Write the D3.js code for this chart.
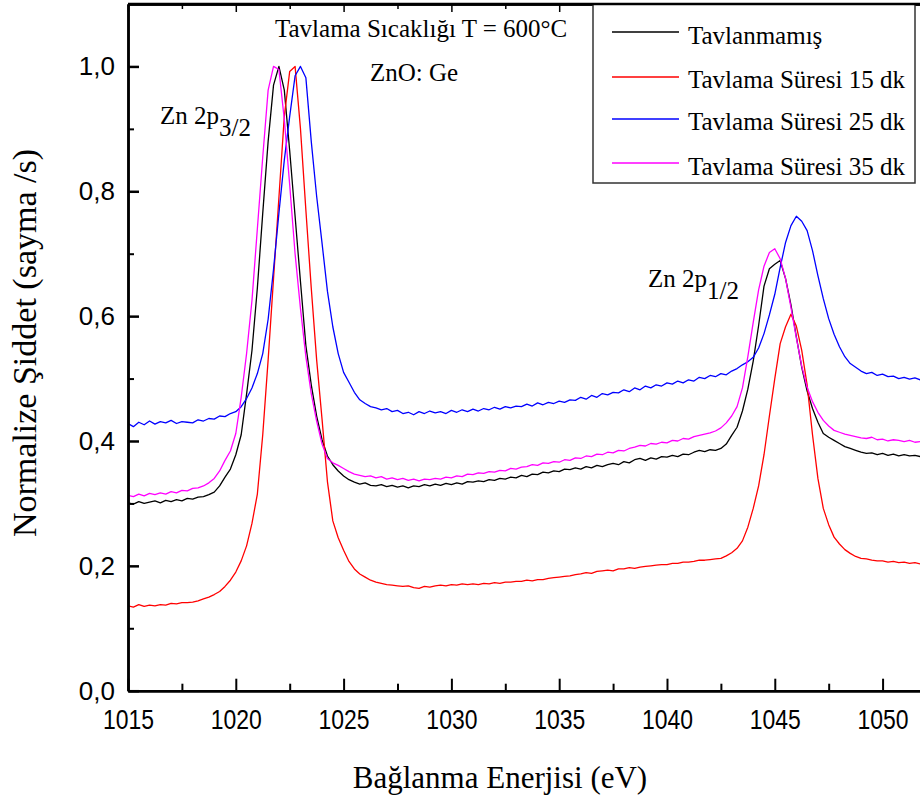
<!DOCTYPE html>
<html>
<head>
<meta charset="utf-8">
<script src="https://cdn.jsdelivr.net/npm/d3@7/dist/d3.min.js"></script>
<style>
  html, body { margin: 0; padding: 0; background: #fff; }
  svg { display: block; }
</style>
</head>
<body>
<svg id="chart" width="920" height="801"></svg>
<script>
// Zn 2p XPS spectra of ZnO:Ge films, annealed at 600 °C for different times.
// Binding energy grid (eV), 0.25 eV step.
const energies = [
  1015,1015.25,1015.5,1015.75,1016,1016.25,1016.5,1016.75,
  1017,1017.25,1017.5,1017.75,1018,1018.25,1018.5,1018.75,
  1019,1019.25,1019.5,1019.75,1020,1020.25,1020.5,1020.75,
  1021,1021.25,1021.5,1021.75,1022,1022.25,1022.5,1022.75,
  1023,1023.25,1023.5,1023.75,1024,1024.25,1024.5,1024.75,
  1025,1025.25,1025.5,1025.75,1026,1026.25,1026.5,1026.75,
  1027,1027.25,1027.5,1027.75,1028,1028.25,1028.5,1028.75,
  1029,1029.25,1029.5,1029.75,1030,1030.25,1030.5,1030.75,
  1031,1031.25,1031.5,1031.75,1032,1032.25,1032.5,1032.75,
  1033,1033.25,1033.5,1033.75,1034,1034.25,1034.5,1034.75,
  1035,1035.25,1035.5,1035.75,1036,1036.25,1036.5,1036.75,
  1037,1037.25,1037.5,1037.75,1038,1038.25,1038.5,1038.75,
  1039,1039.25,1039.5,1039.75,1040,1040.25,1040.5,1040.75,
  1041,1041.25,1041.5,1041.75,1042,1042.25,1042.5,1042.75,
  1043,1043.25,1043.5,1043.75,1044,1044.25,1044.5,1044.75,
  1045,1045.25,1045.5,1045.75,1046,1046.25,1046.5,1046.75,
  1047,1047.25,1047.5,1047.75,1048,1048.25,1048.5,1048.75,
  1049,1049.25,1049.5,1049.75,1050,1050.25,1050.5,1050.75,
  1051,1051.25,1051.5,1051.75
];

// Normalized intensity, as-deposited film
const tavlanmamis = [
  0.301,0.299,0.303,0.300,0.302,0.304,0.301,0.305,
  0.303,0.306,0.304,0.308,0.307,0.310,0.311,0.314,
  0.318,0.328,0.342,0.355,0.378,0.410,0.475,0.545,
  0.645,0.765,0.880,0.970,1.000,0.962,0.865,0.760,
  0.655,0.553,0.490,0.440,0.402,0.376,0.362,0.352,
  0.344,0.338,0.334,0.331,0.333,0.329,0.328,0.330,
  0.327,0.329,0.326,0.328,0.325,0.328,0.327,0.330,
  0.328,0.331,0.329,0.332,0.330,0.333,0.331,0.335,
  0.334,0.336,0.335,0.338,0.337,0.340,0.339,0.342,
  0.341,0.345,0.343,0.347,0.346,0.350,0.349,0.352,
  0.351,0.355,0.354,0.357,0.355,0.359,0.357,0.361,
  0.359,0.362,0.364,0.362,0.367,0.365,0.370,0.372,
  0.369,0.373,0.371,0.375,0.374,0.377,0.375,0.379,
  0.378,0.382,0.385,0.383,0.386,0.385,0.388,0.395,
  0.409,0.422,0.448,0.483,0.528,0.585,0.648,0.676,
  0.683,0.689,0.660,0.618,0.567,0.518,0.480,0.452,
  0.430,0.412,0.406,0.401,0.396,0.391,0.388,0.385,
  0.382,0.380,0.381,0.378,0.380,0.377,0.379,0.376,
  0.378,0.376,0.377,0.375
];

// Annealed 15 min
const sure15 = [
  0.136,0.134,0.138,0.135,0.137,0.136,0.138,0.137,
  0.140,0.139,0.141,0.141,0.142,0.144,0.147,0.150,
  0.154,0.159,0.167,0.177,0.190,0.208,0.232,0.268,
  0.315,0.410,0.530,0.660,0.790,0.920,0.992,1.000,
  0.900,0.770,0.645,0.530,0.435,0.335,0.272,0.245,
  0.225,0.207,0.195,0.187,0.182,0.177,0.174,0.172,
  0.170,0.169,0.168,0.167,0.168,0.165,0.164,0.167,
  0.166,0.168,0.169,0.168,0.170,0.169,0.171,0.170,
  0.171,0.170,0.172,0.171,0.173,0.172,0.174,0.174,
  0.175,0.175,0.177,0.176,0.178,0.178,0.180,0.181,
  0.182,0.183,0.184,0.186,0.187,0.189,0.188,0.191,
  0.192,0.193,0.192,0.195,0.195,0.197,0.196,0.198,
  0.199,0.200,0.201,0.202,0.202,0.204,0.204,0.206,
  0.206,0.207,0.209,0.209,0.210,0.211,0.212,0.216,
  0.221,0.228,0.240,0.262,0.292,0.328,0.378,0.440,
  0.500,0.556,0.583,0.603,0.584,0.545,0.490,0.410,
  0.340,0.292,0.266,0.246,0.235,0.226,0.220,0.215,
  0.212,0.211,0.209,0.208,0.208,0.206,0.207,0.205,
  0.206,0.204,0.205,0.203
];

// Annealed 25 min
const sure25 = [
  0.428,0.423,0.430,0.426,0.432,0.427,0.431,0.429,
  0.433,0.428,0.431,0.430,0.429,0.434,0.432,0.436,
  0.435,0.440,0.439,0.444,0.447,0.455,0.468,0.485,
  0.508,0.540,0.595,0.675,0.765,0.850,0.920,0.985,
  1.000,0.982,0.880,0.792,0.717,0.640,0.583,0.540,
  0.510,0.494,0.478,0.466,0.460,0.455,0.453,0.450,
  0.452,0.447,0.449,0.444,0.446,0.442,0.447,0.444,
  0.448,0.445,0.447,0.444,0.449,0.446,0.450,0.447,
  0.451,0.448,0.452,0.450,0.454,0.451,0.455,0.453,
  0.456,0.455,0.459,0.456,0.461,0.458,0.462,0.460,
  0.464,0.462,0.466,0.465,0.470,0.467,0.473,0.470,
  0.476,0.474,0.478,0.477,0.482,0.479,0.485,0.482,
  0.488,0.485,0.490,0.488,0.493,0.491,0.496,0.493,
  0.498,0.496,0.502,0.500,0.505,0.503,0.508,0.506,
  0.512,0.516,0.522,0.527,0.534,0.549,0.572,0.602,
  0.635,0.678,0.718,0.745,0.760,0.752,0.737,0.705,
  0.665,0.628,0.596,0.571,0.551,0.535,0.524,0.518,
  0.512,0.508,0.510,0.505,0.507,0.503,0.504,0.500,
  0.502,0.499,0.501,0.498
];

// Annealed 35 min
const sure35 = [
  0.313,0.311,0.315,0.312,0.316,0.314,0.317,0.315,
  0.319,0.317,0.321,0.320,0.324,0.325,0.328,0.333,
  0.340,0.352,0.369,0.384,0.412,0.470,0.540,0.625,
  0.740,0.855,0.962,1.000,0.995,0.915,0.810,0.700,
  0.612,0.535,0.476,0.432,0.395,0.372,0.365,0.361,
  0.356,0.351,0.347,0.345,0.343,0.344,0.341,0.343,
  0.339,0.341,0.338,0.340,0.337,0.339,0.336,0.339,
  0.338,0.340,0.339,0.342,0.341,0.344,0.343,0.347,
  0.346,0.349,0.348,0.351,0.350,0.353,0.352,0.356,
  0.355,0.358,0.359,0.362,0.361,0.365,0.364,0.367,
  0.366,0.370,0.369,0.373,0.372,0.376,0.375,0.379,
  0.378,0.382,0.381,0.385,0.384,0.388,0.390,0.393,
  0.392,0.396,0.395,0.398,0.397,0.401,0.400,0.404,
  0.403,0.407,0.409,0.411,0.413,0.416,0.421,0.429,
  0.440,0.455,0.485,0.535,0.590,0.642,0.680,0.702,
  0.708,0.692,0.660,0.614,0.565,0.520,0.486,0.463,
  0.446,0.433,0.424,0.417,0.414,0.411,0.409,0.407,
  0.405,0.404,0.406,0.402,0.403,0.400,0.402,0.401,
  0.399,0.401,0.398,0.399
];

const seriesNames = ["Tavlanmamış", "Tavlama Süresi 15 dk", "Tavlama Süresi 25 dk", "Tavlama Süresi 35 dk"];
const seriesValues = [tavlanmamis, sure15, sure25, sure35];
const seriesColors = ["#000000", "#ff0000", "#0000ff", "#ff00ff"];

const xMajorTicks = [1015, 1020, 1025, 1030, 1035, 1040, 1045, 1050];
const xMinorTicks = [1017.5, 1022.5, 1027.5, 1032.5, 1037.5, 1042.5, 1047.5];
const yMajorTicks = [0, 0.2, 0.4, 0.6, 0.8, 1.0];
const yMinorTicks = [0.1, 0.3, 0.5, 0.7, 0.9];

const xDomain = [1015, 1052];
const yDomain = [0, 1.1];

// ---- layout ----
const plot = { left: 128, top: 4, right: 925.7, bottom: 690.7 };
const svg = d3.select("#chart");
svg.append("rect").attr("width", 920).attr("height", 801).attr("fill", "#fff");

const x = d3.scaleLinear().domain(xDomain).range([plot.left, plot.right]);
const y = d3.scaleLinear().domain(yDomain).range([plot.bottom, plot.top]);

svg.append("clipPath").attr("id", "plotClip")
  .append("rect")
  .attr("x", plot.left).attr("y", plot.top)
  .attr("width", plot.right - plot.left).attr("height", plot.bottom - plot.top);

// ---- spectra ----
const line = d3.line()
  .x((d, i) => x(energies[i]))
  .y(d => y(d));

const curves = svg.append("g").attr("clip-path", "url(#plotClip)");
seriesValues.forEach((vals, k) => {
  curves.append("path")
    .datum(vals)
    .attr("fill", "none")
    .attr("stroke", seriesColors[k])
    .attr("stroke-width", 1.3)
    .attr("stroke-linejoin", "round")
    .attr("d", line);
});

// ---- axes ----
const tickFont = "'Liberation Sans', Arial, sans-serif";
const serif = "'Liberation Serif', 'Times New Roman', serif";

function styleAxis(g, width) {
  g.select(".domain").attr("stroke", "#000").attr("stroke-width", 2.5);
  g.selectAll(".tick line").attr("stroke", "#000").attr("stroke-width", width);
}

// bottom
const gxMinor = svg.append("g").attr("transform", `translate(0,${plot.bottom})`)
  .call(d3.axisBottom(x).tickValues(xMinorTicks).tickSize(-7).tickSizeOuter(0).tickFormat(""));
styleAxis(gxMinor, 2);
const gx = svg.append("g").attr("transform", `translate(0,${plot.bottom})`)
  .call(d3.axisBottom(x).tickValues(xMajorTicks).tickSize(-12).tickSizeOuter(0)
    .tickPadding(18).tickFormat(d3.format("d")));
styleAxis(gx, 2);
gx.selectAll(".tick text")
  .attr("font-family", tickFont)
  .attr("font-size", 28)
  .attr("fill", "#000")
  .attr("transform", "scale(0.82,1)");

// top (ticks only)
const gtMinor = svg.append("g").attr("transform", `translate(0,${plot.top})`)
  .call(d3.axisTop(x).tickValues(xMinorTicks).tickSize(-5).tickSizeOuter(0).tickFormat(""));
styleAxis(gtMinor, 1.5);
const gt = svg.append("g").attr("transform", `translate(0,${plot.top})`)
  .call(d3.axisTop(x).tickValues(xMajorTicks).tickSize(-8).tickSizeOuter(0).tickFormat(""));
styleAxis(gt, 1.5);

// left
const gyMinor = svg.append("g").attr("transform", `translate(${plot.left},0)`)
  .call(d3.axisLeft(y).tickValues(yMinorTicks).tickSize(-6).tickSizeOuter(0).tickFormat(""));
styleAxis(gyMinor, 2);
const gy = svg.append("g").attr("transform", `translate(${plot.left},0)`)
  .call(d3.axisLeft(y).tickValues(yMajorTicks).tickSize(-11).tickSizeOuter(0)
    .tickPadding(13).tickFormat(d => d.toFixed(1).replace(".", ",")));
styleAxis(gy, 2.5);
gy.selectAll(".tick text")
  .attr("font-family", tickFont)
  .attr("font-size", 26)
  .attr("fill", "#000");

// axis titles
svg.append("text")
  .attr("x", 500).attr("y", 788)
  .attr("text-anchor", "middle")
  .attr("font-family", serif).attr("font-size", 31).attr("fill", "#000")
  .text("Bağlanma Enerjisi (eV)");

svg.append("text")
  .attr("transform", "translate(36,343) rotate(-90)")
  .attr("text-anchor", "middle")
  .attr("font-family", serif).attr("font-size", 34).attr("fill", "#000")
  .text("Normalize Şiddet (sayma /s)");

// annotations
svg.append("text")
  .attr("x", 275).attr("y", 37)
  .attr("font-family", serif).attr("font-size", 25).attr("fill", "#000")
  .text("Tavlama Sıcaklığı T = 600°C");
svg.append("text")
  .attr("x", 370).attr("y", 81)
  .attr("font-family", serif).attr("font-size", 25).attr("fill", "#000")
  .text("ZnO: Ge");

function peakLabel(px, py, sub) {
  const t = svg.append("text")
    .attr("x", px).attr("y", py)
    .attr("font-family", serif).attr("font-size", 25).attr("fill", "#000");
  t.append("tspan").text("Zn 2p");
  t.append("tspan").attr("dy", 12).text(sub);
}
peakLabel(160, 124, "3/2");
peakLabel(648, 287, "1/2");

// ---- legend ----
const legend = svg.append("g");
legend.append("rect")
  .attr("x", 593).attr("y", 4).attr("width", 322).attr("height", 179)
  .attr("fill", "#fff").attr("stroke", "#333").attr("stroke-width", 1.5);
const rowLine = [32, 77, 119, 163];
const rowText = [44, 88, 130, 175];
seriesNames.forEach((name, k) => {
  legend.append("line")
    .attr("x1", 612).attr("x2", 679)
    .attr("y1", rowLine[k]).attr("y2", rowLine[k])
    .attr("stroke", seriesColors[k]).attr("stroke-width", 1.5);
  legend.append("text")
    .attr("x", 688).attr("y", rowText[k])
    .attr("font-family", serif).attr("font-size", 25).attr("fill", "#000")
    .text(name);
});

// frame: top border drawn over the legend edge
svg.append("line")
  .attr("x1", plot.left).attr("x2", plot.right)
  .attr("y1", plot.top).attr("y2", plot.top)
  .attr("stroke", "#000").attr("stroke-width", 2.5);
</script>
</body>
</html>
